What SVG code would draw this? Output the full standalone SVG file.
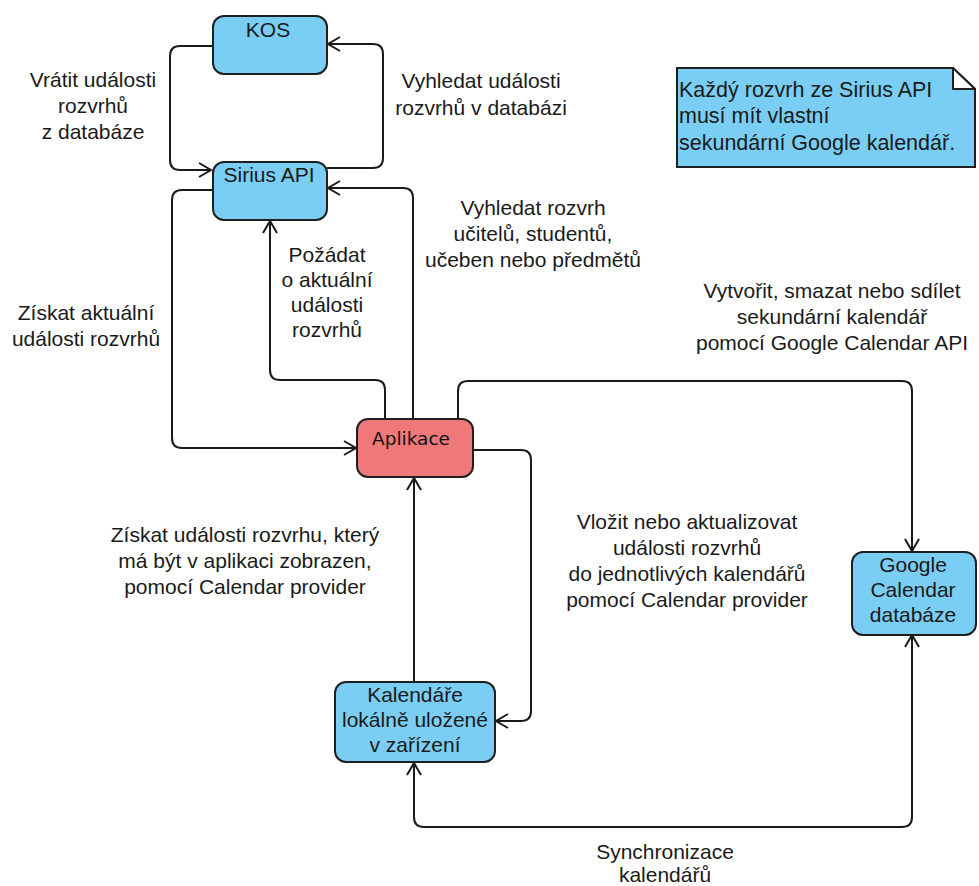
<svg xmlns="http://www.w3.org/2000/svg" width="979" height="886" viewBox="0 0 979 886">
<defs>
<marker id="arr" markerUnits="userSpaceOnUse" markerWidth="16" markerHeight="18" refX="13" refY="8" orient="auto-start-reverse" viewBox="0 0 16 16">
<path d="M1,1 L13,8 L1,15" fill="none" stroke="#1a1a1a" stroke-width="2"/>
</marker>
<style>
.node{fill:#7ACEF4;stroke:#1f1f1f;stroke-width:2}
.app{fill:#F07878;stroke:#1f1f1f;stroke-width:2}
.t{font-family:"Liberation Sans",Arial,sans-serif;font-size:21px;fill:#1a1a1a;text-anchor:middle}
.tl{font-family:"Liberation Sans",Arial,sans-serif;font-size:21.5px;fill:#1a1a1a}
.e{fill:none;stroke:#1a1a1a;stroke-width:2;marker-end:url(#arr)}
</style>
</defs>
<rect width="979" height="886" fill="#ffffff"/>
<g id="connectors">
<path class="e" d="M212,46 H180 Q170,46 170,56 V160 Q170,170 180,170 H211"/>
<path class="e" d="M327,168 H373 Q383,168 383,158 V54 Q383,44 373,44 H328"/>
<path class="e" d="M413,419 V198 Q413,188 403,188 H328"/>
<path class="e" d="M385,419 V390 Q385,380 375,380 H280 Q270,380 270,370 V221"/>
<path class="e" d="M212,190 H182 Q172,190 172,200 V438 Q172,448 182,448 H356"/>
<path class="e" d="M458,419 V391 Q458,381 468,381 H902 Q912,381 912,391 V551"/>
<path class="e" d="M473,450 H521 Q531,450 531,460 V711 Q531,721 521,721 H496"/>
<path class="e" d="M414,682 V478"/>
<path class="e" style="marker-start:url(#arr)" d="M414,763 V817 Q414,827 424,827 H902 Q912,827 912,817 V635"/>
</g>
<g id="labels">
<text class="t"><tspan x="93" y="87">Vrátit události</tspan><tspan x="93" y="113">rozvrhů</tspan><tspan x="93" y="139">z databáze</tspan></text>
<text class="t"><tspan x="481" y="88">Vyhledat události</tspan><tspan x="481" y="115">rozvrhů v databázi</tspan></text>
<text class="t"><tspan x="533" y="215">Vyhledat rozvrh</tspan><tspan x="533" y="241">učitelů, studentů,</tspan><tspan x="533" y="267">učeben nebo předmětů</tspan></text>
<text class="t"><tspan x="327" y="262">Požádat</tspan><tspan x="327" y="287">o aktuální</tspan><tspan x="327" y="312">události</tspan><tspan x="327" y="337">rozvrhů</tspan></text>
<text class="t"><tspan x="86" y="320">Získat aktuální</tspan><tspan x="86" y="346">události rozvrhů</tspan></text>
<text class="t"><tspan x="832" y="298">Vytvořit, smazat nebo sdílet</tspan><tspan x="832" y="324">sekundární kalendář</tspan><tspan x="832" y="350">pomocí Google Calendar API</tspan></text>
<text class="t"><tspan x="245" y="542">Získat události rozvrhu, který</tspan><tspan x="245" y="568">má být v aplikaci zobrazen,</tspan><tspan x="245" y="594">pomocí Calendar provider</tspan></text>
<text class="t"><tspan x="687" y="529">Vložit nebo aktualizovat</tspan><tspan x="687" y="555">události rozvrhů</tspan><tspan x="687" y="581">do jednotlivých kalendářů</tspan><tspan x="687" y="607">pomocí Calendar provider</tspan></text>
<text class="t"><tspan x="665" y="859">Synchronizace</tspan><tspan x="665" y="882">kalendářů</tspan></text>
</g>
<g id="kos">
<rect class="node" x="213" y="16" width="114" height="58" rx="11"/>
<text class="t" x="268" y="37">KOS</text>
</g>
<g id="sirius">
<rect class="node" x="213" y="162" width="114" height="58" rx="11"/>
<text class="t" x="269" y="182">Sirius API</text>
</g>
<g id="aplikace">
<rect class="app" x="357" y="419" width="116" height="58" rx="11"/>
<text x="411" y="445" font-family="'DejaVu Sans',sans-serif" font-size="18.5px" fill="#111" text-anchor="middle">Aplikace</text>
</g>
<g id="google">
<rect class="node" x="852" y="552" width="124" height="83" rx="11"/>
<text class="t"><tspan x="913" y="572">Google</tspan><tspan x="913" y="597">Calendar</tspan><tspan x="913" y="622">databáze</tspan></text>
</g>
<g id="kalendare">
<rect class="node" x="335" y="682" width="160" height="80" rx="11"/>
<text class="t"><tspan x="415" y="702">Kalendáře</tspan><tspan x="415" y="727">lokálně uložené</tspan><tspan x="415" y="752">v zařízení</tspan></text>
</g>
<g id="note">
<path class="node" d="M677,68 H953 L975,89 V167 H677 Z"/>
<path d="M953,68 V89 H975 Z" fill="#ffffff" stroke="#1f1f1f" stroke-width="2" stroke-linejoin="round"/>
<text class="tl"><tspan x="679" y="97">Každý rozvrh ze Sirius API</tspan><tspan x="679" y="123">musí mít vlastní</tspan><tspan x="679" y="150">sekundární Google kalendář.</tspan></text>
</g>
</svg>
